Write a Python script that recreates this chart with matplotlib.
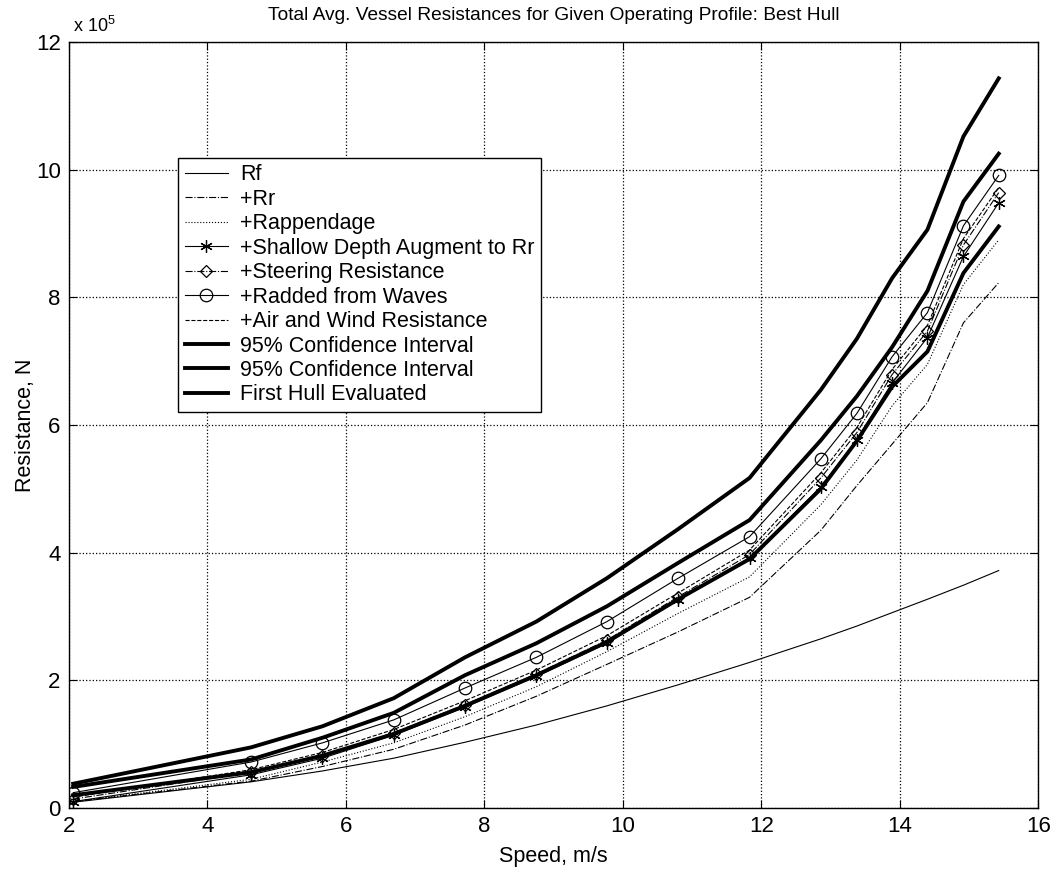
import matplotlib
matplotlib.use("Agg")
from matplotlib import pyplot as plt

plt.rcParams['font.family'] = ['Liberation Sans', 'DejaVu Sans']
plt.rcParams['mathtext.fontset'] = 'custom'
plt.rcParams['mathtext.rm'] = 'Liberation Sans'

# speeds (m/s) of the operating profile points
speed = [2.06, 4.63, 5.66, 6.69, 7.72, 8.75, 9.77, 10.80, 11.83, 12.86, 13.38, 13.89, 14.40, 14.92, 15.43]

# cumulative resistances, in units of 1e5 N
rf = [0.09, 0.41, 0.58, 0.78, 1.03, 1.30, 1.60, 1.93, 2.28, 2.65, 2.85, 3.06, 3.27, 3.49, 3.72]
rr = [0.10, 0.42, 0.65, 0.92, 1.30, 1.75, 2.25, 2.76, 3.30, 4.35, 5.05, 5.70, 6.35, 7.60, 8.23]
rapp = [0.10, 0.45, 0.72, 1.02, 1.43, 1.90, 2.45, 3.05, 3.62, 4.75, 5.45, 6.30, 6.95, 8.20, 8.90]
shallow = [0.10, 0.52, 0.78, 1.14, 1.58, 2.06, 2.58, 3.26, 3.92, 5.03, 5.77, 6.66, 7.37, 8.64, 9.48]
steering = [0.14, 0.56, 0.82, 1.18, 1.62, 2.10, 2.63, 3.31, 3.97, 5.17, 5.88, 6.79, 7.47, 8.82, 9.64]
radded = [0.24, 0.72, 1.02, 1.38, 1.88, 2.36, 2.92, 3.60, 4.25, 5.47, 6.18, 7.07, 7.76, 9.12, 9.91]
air = [0.17, 0.60, 0.87, 1.23, 1.68, 2.16, 2.70, 3.37, 4.04, 5.25, 5.96, 6.87, 7.56, 8.92, 9.72]
ci_upper = [0.33, 0.76, 1.10, 1.49, 2.08, 2.58, 3.16, 3.84, 4.51, 5.76, 6.45, 7.22, 8.10, 9.50, 10.25]
ci_lower = [0.20, 0.56, 0.82, 1.16, 1.60, 2.08, 2.60, 3.27, 3.90, 5.00, 5.75, 6.60, 7.15, 8.38, 9.11]
first_hull = [0.38, 0.95, 1.28, 1.72, 2.36, 2.92, 3.60, 4.37, 5.17, 6.55, 7.35, 8.30, 9.06, 10.52, 11.43]

fig = plt.figure(figsize=(10.54, 8.69), dpi=100)
ax = fig.add_axes([0.0655, 0.0702, 0.9195, 0.8815])

thin = 0.8
thick = 2.8
ax.plot(speed, rf, color='k', lw=thin, label='Rf')
ax.plot(speed, rr, color='k', lw=thin, linestyle='-.', label='+Rr')
ax.plot(speed, rapp, color='k', lw=thin, linestyle=':', label='+Rappendage')
ax.plot(speed, shallow, color='k', lw=thin, marker=(6, 2, 0), markersize=9,
        markeredgewidth=0.9, label='+Shallow Depth Augment to Rr')
ax.plot(speed, steering, color='k', lw=thin, linestyle='-.', marker='D', markersize=6,
        markerfacecolor='none', markeredgewidth=0.9, label='+Steering Resistance')
ax.plot(speed, radded, color='k', lw=thin, marker='o', markersize=9,
        markerfacecolor='none', markeredgewidth=0.9, label='+Radded from Waves')
ax.plot(speed, air, color='k', lw=thin, linestyle='--', label='+Air and Wind Resistance')
ax.plot(speed, ci_upper, color='k', lw=thick, label='95% Confidence Interval')
ax.plot(speed, ci_lower, color='k', lw=thick, label='95% Confidence Interval')
ax.plot(speed, first_hull, color='k', lw=thick, label='First Hull Evaluated')

ax.set_xlim(2, 16)
ax.set_ylim(0, 12)
ax.set_xticks(range(2, 17, 2))
ax.set_yticks(range(0, 13, 2))
ax.grid(True, color='k', linestyle=':', linewidth=0.9)
ax.tick_params(direction='in', top=True, right=True, labelsize=16, length=6, pad=6)
for side in ax.spines.values():
    side.set_linewidth(1.0)

ax.set_xlabel('Speed, m/s', fontsize=15.5, labelpad=6)
ax.set_ylabel('Resistance, N', fontsize=15.5, labelpad=0)
ax.set_title('Total Avg. Vessel Resistances for Given Operating Profile: Best Hull',
             fontsize=13.75, pad=16)
ax.text(0.004, 1.008, r'x 10$^{5}$', transform=ax.transAxes, fontsize=13,
        ha='left', va='bottom')

leg = ax.legend(loc='upper left', bbox_to_anchor=(0.1125, 0.8486), borderaxespad=0,
                fontsize=15.5, frameon=True, fancybox=False, framealpha=1,
                edgecolor='k', handlelength=2.0, labelspacing=0.16, borderpad=0.3,
                handletextpad=0.6)
leg.get_frame().set_linewidth(1.0)

fig.savefig('out.png', dpi=100)
